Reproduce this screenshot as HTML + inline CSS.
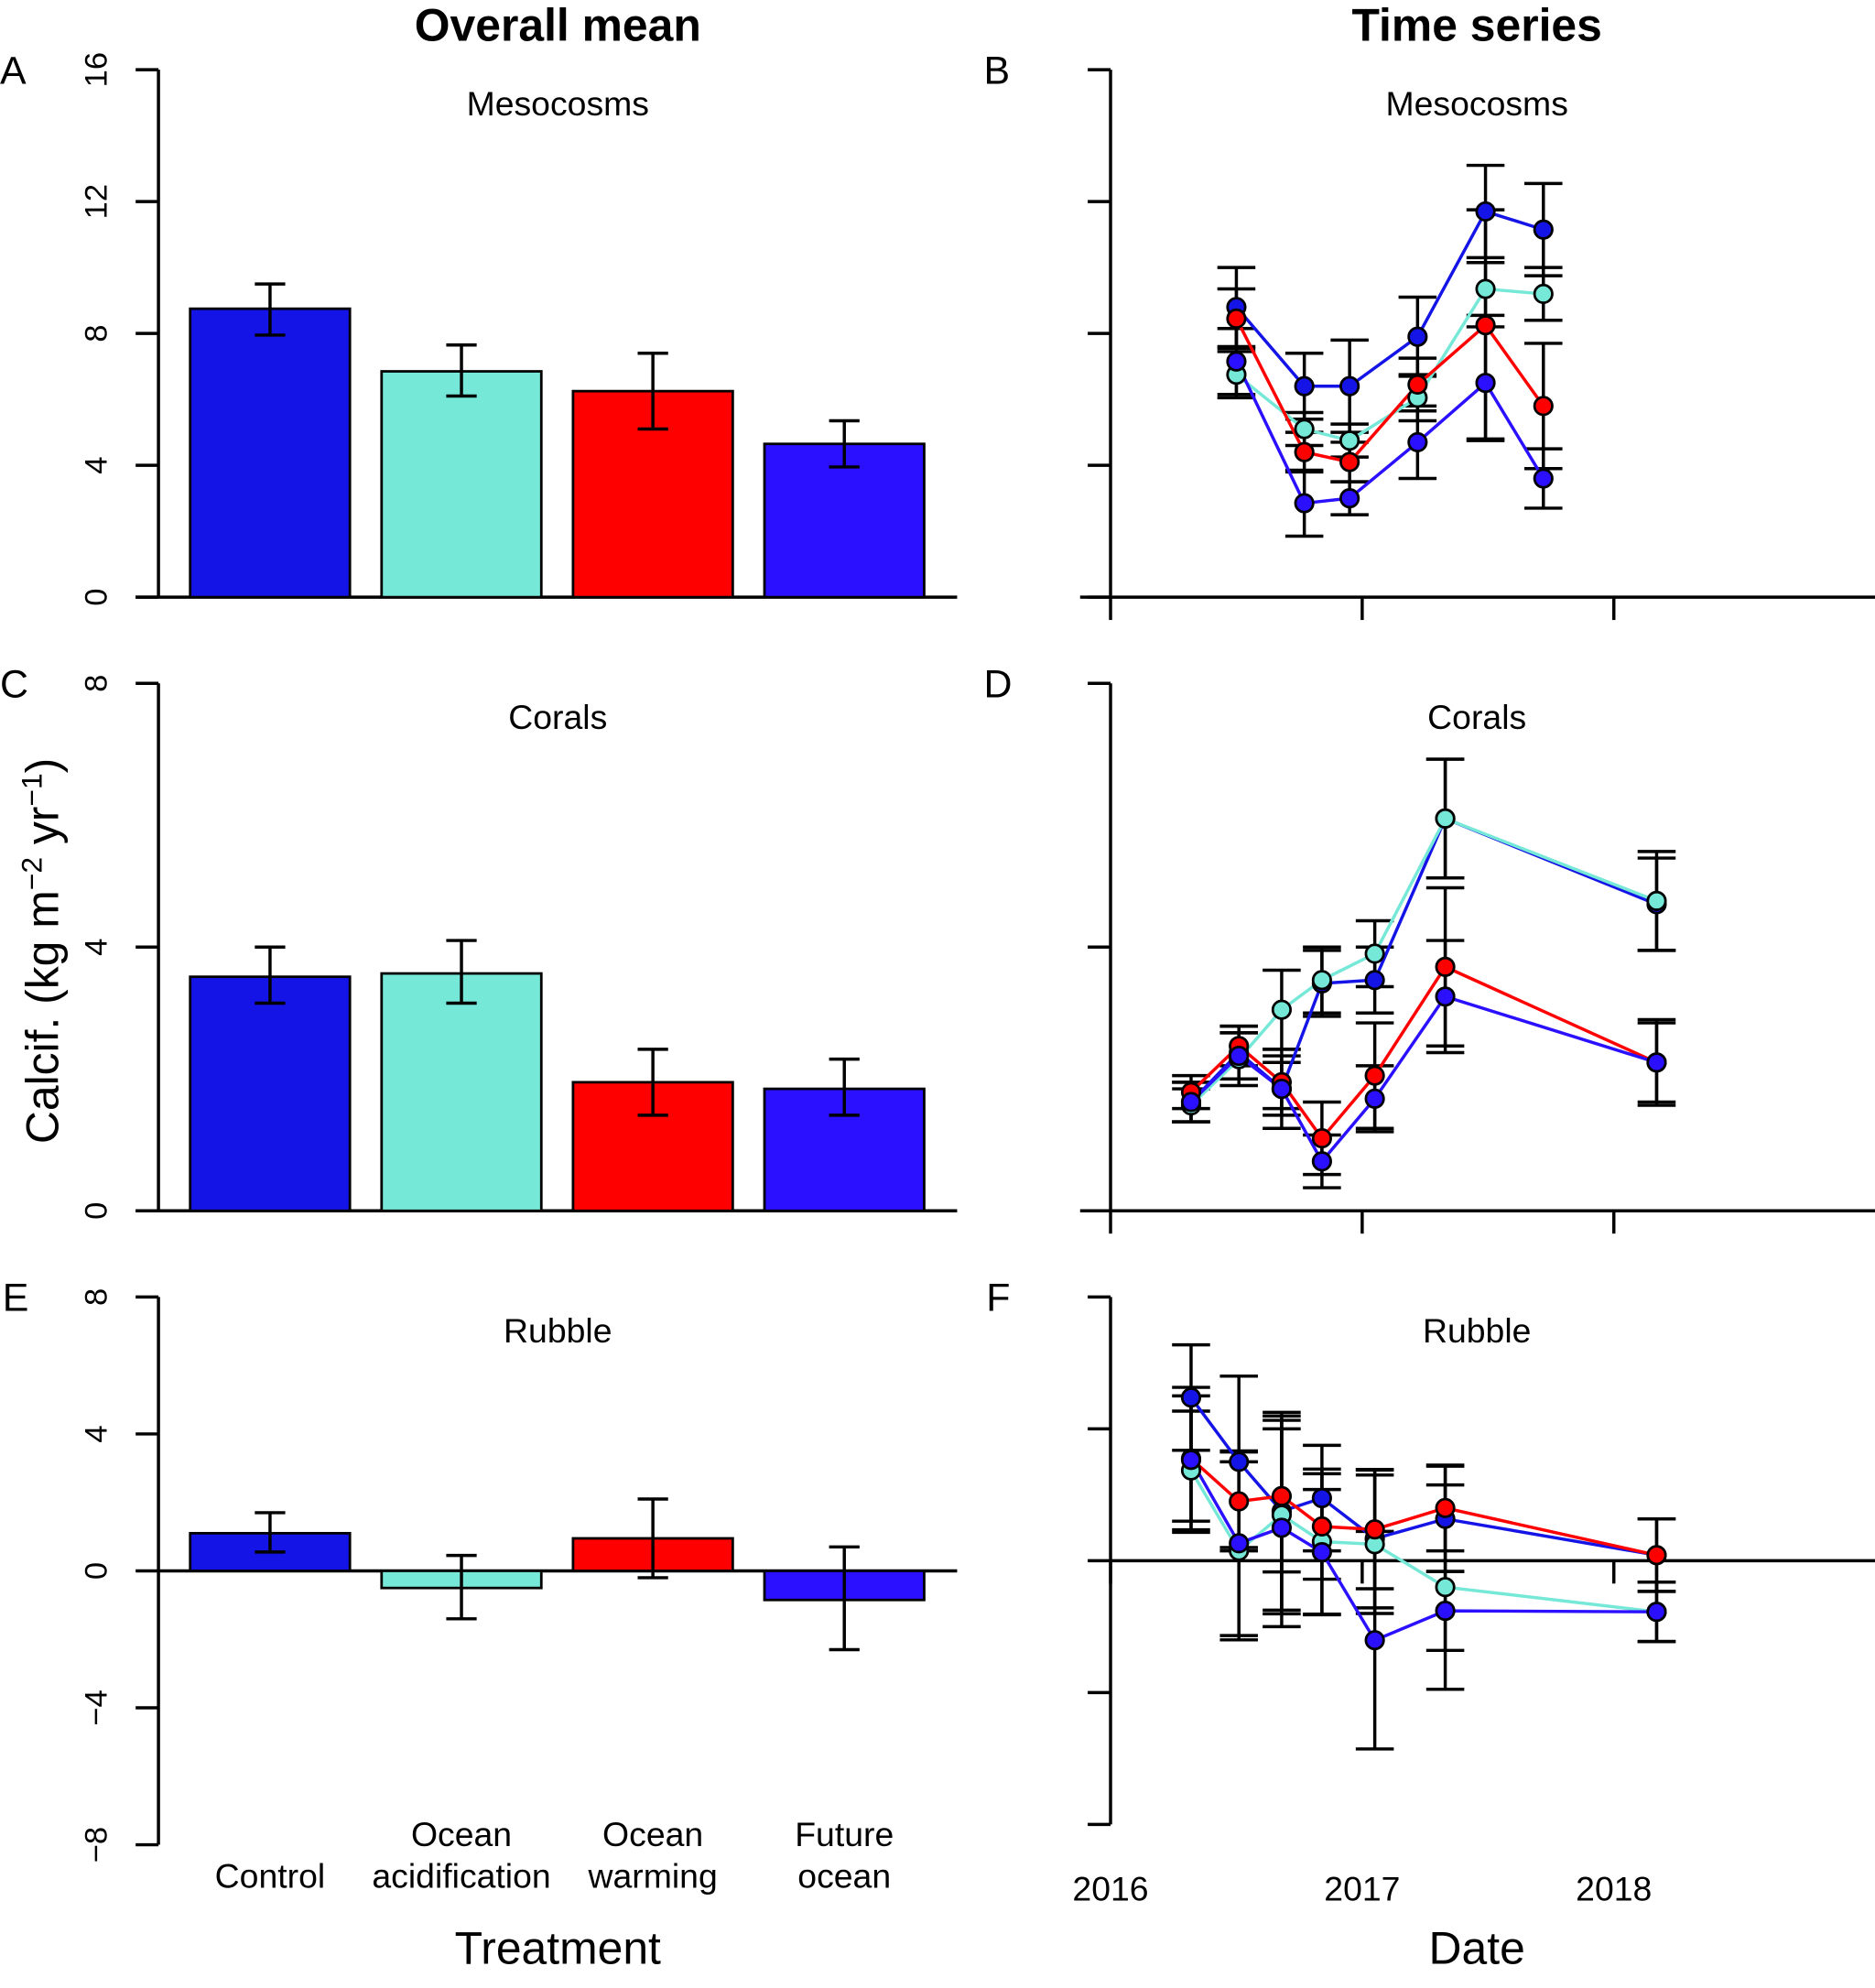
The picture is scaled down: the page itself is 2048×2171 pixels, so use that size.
<!DOCTYPE html>
<html><head><meta charset="utf-8"><style>
html,body{margin:0;padding:0;background:#fff}
svg{display:block}
text{font-family:"Liberation Sans",sans-serif;fill:#000}
</style></head><body>
<svg id="fig" width="2048" height="2171" viewBox="0 0 1479 1568" preserveAspectRatio="none" xmlns="http://www.w3.org/2000/svg">
<text x="440" y="32" font-size="36" font-weight="bold" text-anchor="middle">Overall mean</text>
<text x="1165" y="32" font-size="36" font-weight="bold" text-anchor="middle">Time series</text>
<text x="0" y="66" font-size="31">A</text>
<text x="776" y="66" font-size="31">B</text>
<text x="0" y="550" font-size="31">C</text>
<text x="776" y="550" font-size="31">D</text>
<text x="2" y="1034" font-size="31">E</text>
<text x="778" y="1034" font-size="31">F</text>
<text transform="translate(46,750) rotate(-90)" font-size="36" text-anchor="middle">Calcif. (kg m<tspan font-size="23" dy="-13">−2</tspan><tspan dy="13"> yr</tspan><tspan font-size="23" dy="-13">−1</tspan><tspan dy="13">)</tspan></text>
<text x="440" y="1549" font-size="36" text-anchor="middle">Treatment</text>
<text x="1165" y="1549" font-size="36" text-anchor="middle">Date</text>
<g id="plots"></g>
</svg>
<script>
// ---- data ----
const treatments = ["Control", "Ocean acidification", "Ocean warming", "Future ocean"];
const colors = ["#1414e6", "#76e8d8", "#ff0000", "#2a10ff"];
const meanMeso = [8.75, 6.85, 6.25, 4.65];
const meanMesoLo = [7.95, 6.1, 5.1, 3.95];
const meanMesoHi = [9.5, 7.65, 7.4, 5.35];
const meanCoral = [3.55, 3.6, 1.95, 1.85];
const meanCoralLo = [3.15, 3.15, 1.45, 1.45];
const meanCoralHi = [4.0, 4.1, 2.45, 2.3];
const meanRubble = [1.1, -0.5, 0.95, -0.85];
const meanRubbleLo = [0.55, -1.4, -0.2, -2.3];
const meanRubbleHi = [1.7, 0.45, 2.1, 0.7];

const datesMeso = [2016.50, 2016.77, 2016.95, 2017.22, 2017.49, 2017.72];
const mesoControl = [8.8, 6.4, 6.4, 7.9, 11.7, 11.15];
const mesoOA = [6.75, 5.1, 4.75, 6.05, 9.35, 9.2];
const mesoOW = [8.45, 4.4, 4.1, 6.45, 8.25, 5.8];
const mesoFO = [7.15, 2.85, 3.0, 4.7, 6.5, 3.6];
const mesoErrControl = [1.2, 1.0, 1.4, 1.2, 1.4, 1.4];
const mesoErrOA = [0.7, 0.5, 0.5, 0.7, 0.8, 0.8];
const mesoErrOW = [0.9, 0.6, 0.6, 0.8, 3.5, 1.9];
const mesoErrFO = [1.0, 1.0, 0.5, 1.1, 1.7, 0.9];

const datesCoral = [2016.32, 2016.51, 2016.68, 2016.84, 2017.05, 2017.33, 2018.17];
const coralControl = [1.65, 2.4, 1.85, 3.45, 3.5, 5.95, 4.65];
const coralOA = [1.6, 2.3, 3.05, 3.5, 3.9, 5.95, 4.7];
const coralOW = [1.8, 2.5, 1.95, 1.1, 2.05, 3.7, 2.25];
const coralFO = [1.65, 2.35, 1.85, 0.75, 1.7, 3.25, 2.25];
const coralErrControl = [0.3, 0.4, 0.6, 0.5, 0.5, 0.9, 0.7];
const coralErrOA = [0.25, 0.4, 0.6, 0.5, 0.5, 0.9, 0.75];
const coralErrOW = [0.25, 0.3, 0.4, 0.55, 0.8, 1.2, 0.65];
const coralErrFO = [0.3, 0.35, 0.4, 0.4, 0.5, 0.85, 0.6];

const datesRubble = [2016.32, 2016.51, 2016.68, 2016.84, 2017.05, 2017.33, 2018.17];
const rubbleControl = [4.95, 3.0, 1.5, 1.9, 0.67, 1.27, 0.17];
const rubbleOA = [2.74, 0.3, 1.39, 0.58, 0.5, -0.8, -1.55];
const rubbleOW = [3.1, 1.8, 1.96, 1.04, 0.95, 1.6, 0.17];
const rubbleFO = [3.06, 0.53, 1.0, 0.26, -2.41, -1.52, -1.55];
const rubbleErrControl = [1.6, 2.6, 3.0, 1.6, 2.1, 1.6, 1.1];
const rubbleErrOA = [1.8, 2.7, 3.0, 2.2, 2.1, 3.1, 0.9];
const rubbleErrOW = [1.9, 1.5, 2.3, 1.6, 1.8, 1.3, 1.1];
const rubbleErrFO = [2.2, 2.8, 3.0, 1.9, 3.3, 1.2, 0.9];

const yTicksMeso = [0, 4, 8, 12, 16];
const yTicksSmall = [0, 4, 8];
const yTicksRubble = [-8, -4, 0, 4, 8];
const yearTicks = [2016, 2017, 2018];

// ---- drawing ----
const NS = "http://www.w3.org/2000/svg";
const root = document.getElementById("plots");
function mk(tag, attrs, parent) {
  const e = document.createElementNS(NS, tag);
  for (const k in attrs) e.setAttribute(k, attrs[k]);
  (parent || root).appendChild(e);
  return e;
}
function line(x1, y1, x2, y2, stroke, w, parent) {
  return mk("line", {x1, y1, x2, y2, stroke, "stroke-width": w}, parent);
}
function yScale(top, bottom, vmin, vmax) {
  return v => bottom - (v - vmin) / (vmax - vmin) * (bottom - top);
}
const xDate = d => 876 + (d - 2016) * 198.5;

function errBar(g, x, lo, hi, cap) {
  const a = line(x, lo, x, hi, "#000", 2.5, g);
  
  
  const c1 = line(x - cap, lo, x + cap, lo, "#000", 2.5, g);
  
  
  const c2 = line(x - cap, hi, x + cap, hi, "#000", 2.5, g);
  
  
}

function barPanel(name, top, bottom, vmin, vmax, ticks, vals, lo, hi, title, zeroLine) {
  const g = mk("g", {});
  
  
  const y = yScale(top, bottom, vmin, vmax);
  const ax = line(125, y(vmax), 125, y(vmin), "#000", 2.5, g);
  
  
  ticks.forEach(t => {
    const tk = line(107, y(t), 125, y(t), "#000", 2.5, g);
    
    
    const tx = mk("text", {transform: `translate(84,${y(t)}) rotate(-90)`, "font-size": 25, "text-anchor": "middle"}, g);
    tx.textContent = t < 0 ? "−" + Math.abs(t) : String(t);
    
    
  });
  const base = zeroLine ? y(0) : y(vmin);
  const bl = line(zeroLine ? 125 : 107, base, 755, base, "#000", 2.5, g);
  
  
  vals.forEach((v, i) => {
    const x0 = 150 + i * 151;
    const r = mk("rect", {x: x0, y: Math.min(y(v), y(0)), width: 126, height: Math.abs(y(0) - y(v)), fill: colors[i], stroke: "#000", "stroke-width": 2}, g);
    
    
    errBar(g, x0 + 63, y(lo[i]), y(hi[i]), 12);
  });
  const tt = mk("text", {x: 440, y: top + 36, "font-size": 27, "text-anchor": "middle"}, g);
  tt.textContent = title;
  
  
}

function tsPanel(name, top, bottom, vmin, vmax, ticks, dates, series, errs, title, zeroLine) {
  const g = mk("g", {});
  
  
  const y = yScale(top, bottom, vmin, vmax);
  const ax = line(876, y(vmax), 876, y(vmin), "#000", 2.5, g);
  
  
  ticks.forEach(t => {
    const tk = line(858, y(t), 876, y(t), "#000", 2.5, g);
    
    
  });
  if (zeroLine) {
    const z = line(876, y(0), 1479, y(0), "#000", 2.5, g);
    
    
    yearTicks.forEach(yr => {
      const tk = line(xDate(yr), y(0), xDate(yr), y(0) + 18, "#000", 2.5, g);
      
      
    });
  } else {
    const xa = line(852, bottom, 1479, bottom, "#000", 2.5, g);
    
    
    yearTicks.forEach(yr => {
      const tk = line(xDate(yr), bottom, xDate(yr), bottom + 18, "#000", 2.5, g);
      
      
    });
  }
  series.forEach((s, k) => {
    s.forEach((v, i) => errBar(g, xDate(dates[i]), y(v - errs[k][i]), y(v + errs[k][i]), 15));
  });
  series.forEach((s, k) => {
    const pts = s.map((v, i) => xDate(dates[i]).toFixed(1) + "," + y(v).toFixed(1)).join(" ");
    const pl = mk("polyline", {points: pts, fill: "none", stroke: colors[k], "stroke-width": 2.5}, g);
    
    
  });
  series.forEach((s, k) => {
    s.forEach((v, i) => {
      const c = mk("circle", {cx: xDate(dates[i]), cy: y(v), r: 7, fill: colors[k], stroke: "#000", "stroke-width": 2}, g);
      
      
    });
  });
  const tt = mk("text", {x: 1165, y: top + 36, "font-size": 27, "text-anchor": "middle"}, g);
  tt.textContent = title;
  
  
}

barPanel("panel-a-mesocosms-mean", 55, 471, 0, 16, yTicksMeso, meanMeso, meanMesoLo, meanMesoHi, "Mesocosms", false);
barPanel("panel-c-corals-mean", 539, 955, 0, 8, yTicksSmall, meanCoral, meanCoralLo, meanCoralHi, "Corals", false);
barPanel("panel-e-rubble-mean", 1023, 1455, -8, 8, yTicksRubble, meanRubble, meanRubbleLo, meanRubbleHi, "Rubble", true);

tsPanel("panel-b-mesocosms-time", 55, 471, 0, 16, yTicksMeso, datesMeso,
  [mesoControl, mesoOA, mesoOW, mesoFO], [mesoErrControl, mesoErrOA, mesoErrOW, mesoErrFO], "Mesocosms", false);
tsPanel("panel-d-corals-time", 539, 955, 0, 8, yTicksSmall, datesCoral,
  [coralControl, coralOA, coralOW, coralFO], [coralErrControl, coralErrOA, coralErrOW, coralErrFO], "Corals", false);
tsPanel("panel-f-rubble-time", 1023, 1439, -8, 8, yTicksRubble, datesRubble,
  [rubbleControl, rubbleOA, rubbleOW, rubbleFO], [rubbleErrControl, rubbleErrOA, rubbleErrOW, rubbleErrFO], "Rubble", true);

const catLines = [["Control"], ["Ocean", "acidification"], ["Ocean", "warming"], ["Future", "ocean"]];
catLines.forEach((ls, i) => {
  const x = 213 + i * 151;
  ls.forEach((s, j) => {
    const yy = ls.length === 1 ? 1489 : 1456 + j * 33;
    const t = mk("text", {x, y: yy, "font-size": 27, "text-anchor": "middle"});
    t.textContent = s;
    
    
  });
});
yearTicks.forEach(yr => {
  const t = mk("text", {x: xDate(yr), y: 1499, "font-size": 27, "text-anchor": "middle"});
  t.textContent = String(yr);
  
  
});
</script>
</body></html>
